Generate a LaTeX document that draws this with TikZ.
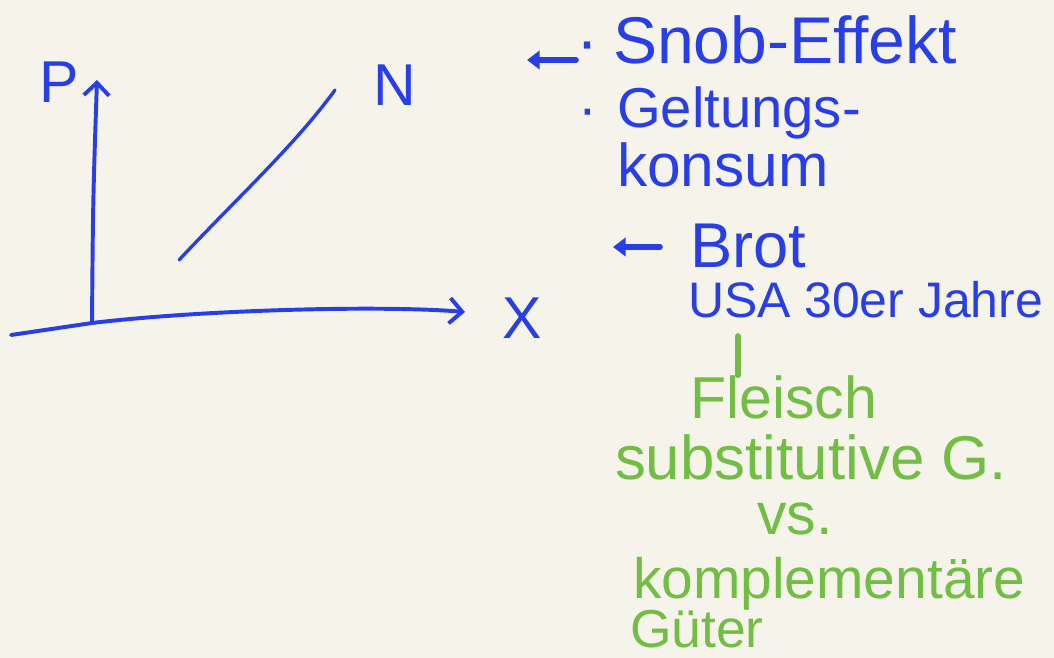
\documentclass[tikz,border=0pt]{standalone}
\usepackage{fontspec}
\setmainfont{Liberation Sans}
\usetikzlibrary{arrows.meta}
\definecolor{bg}{RGB}{246,244,234}
\definecolor{ink}{RGB}{40,62,232}
\definecolor{leaf}{RGB}{114,190,68}
\newcommand{\setfs}[1]{\fontsize{#1}{#1}\selectfont}
\tikzset{
  note/.style={anchor=base west, inner sep=0pt, outer sep=0pt},
  bluenote/.style={note, text=ink},
  greennote/.style={note, text=leaf},
  axis/.style={draw=ink, line width=2.8pt, line cap=round, line join=round,
    -{Straight Barb[length=9pt,width=18pt,line width=2.8pt]}},
  pointer/.style={draw=ink, line width=4pt, line cap=round,
    -{Triangle[length=9pt,width=13pt]}},
  curve/.style={draw=ink, line width=2.4pt, line cap=round},
  tick/.style={draw=leaf, line width=4pt, line cap=round},
}
\begin{document}
\begin{tikzpicture}[x=0.025cm,y=-0.025cm]
\path[use as bounding box, fill=bg] (0,0) rectangle (1054,658);

% axes
\coordinate (o) at (92,323);
\coordinate (ytop) at (97,80);
\coordinate (xl) at (11,335);
\coordinate (xr) at (465,312);
\draw[axis] (o) .. controls (93,200) .. (ytop);
\draw[axis] (xl) -- (o) .. controls (200,310) and (380,305) .. (xr);
\coordinate (n0) at (179,260);
\coordinate (n1) at (335,90);
\draw[curve] (n0) .. controls (240,195) and (295,145) .. (n1);

\node[bluenote, font=\setfs{42}] (P) at (39,102) {P};
\node[bluenote, font=\setfs{42}] (N) at (373,105) {N};
\node[bluenote, font=\setfs{42}] (X) at (502,338) {X};

% notes
\node[bluenote, anchor=base, font=\setfs{47}] (b1) at (587,63) {·};
\node[bluenote, font=\setfs{47}] (snob) at (613,63) {Snob-Effekt};
\coordinate (a1) at (527,60);
\draw[pointer] (b1.west |- a1) -- (a1);

\node[bluenote, anchor=base, font=\setfs{40}] (b2) at (588,127) {·};
\node[bluenote, font=\setfs{40}] (gelt) at (617,127) {Geltungs-};
\node[bluenote, font=\setfs{43}] (kons) at (617,186) {konsum};

\node[bluenote, font=\setfs{45}] (brot) at (690,267) {Brot};
\coordinate (a2) at (613,247);
\draw[pointer] ([xshift=-0.75cm]brot.west |- a2) -- (a2);
\node[bluenote, font=\setfs{35.5}] (usa) at (688,317) {USA 30er Jahre};

\node[greennote, font=\setfs{42}] (fleisch) at (690,418) {Fleisch};
\coordinate (t1) at (738,336);
\draw[tick] (t1) -- (t1 |- fleisch.north);
\node[greennote, font=\setfs{44}] (subst) at (615,479) {substitutive G.};
\node[greennote, font=\setfs{42}] (vs) at (757,534) {vs.};
\node[greennote, font=\setfs{40.5}] (kompl) at (633,598) {komplementäre};
\node[greennote, font=\setfs{38}] (gueter) at (630,647) {Güter};
\end{tikzpicture}
\end{document}
